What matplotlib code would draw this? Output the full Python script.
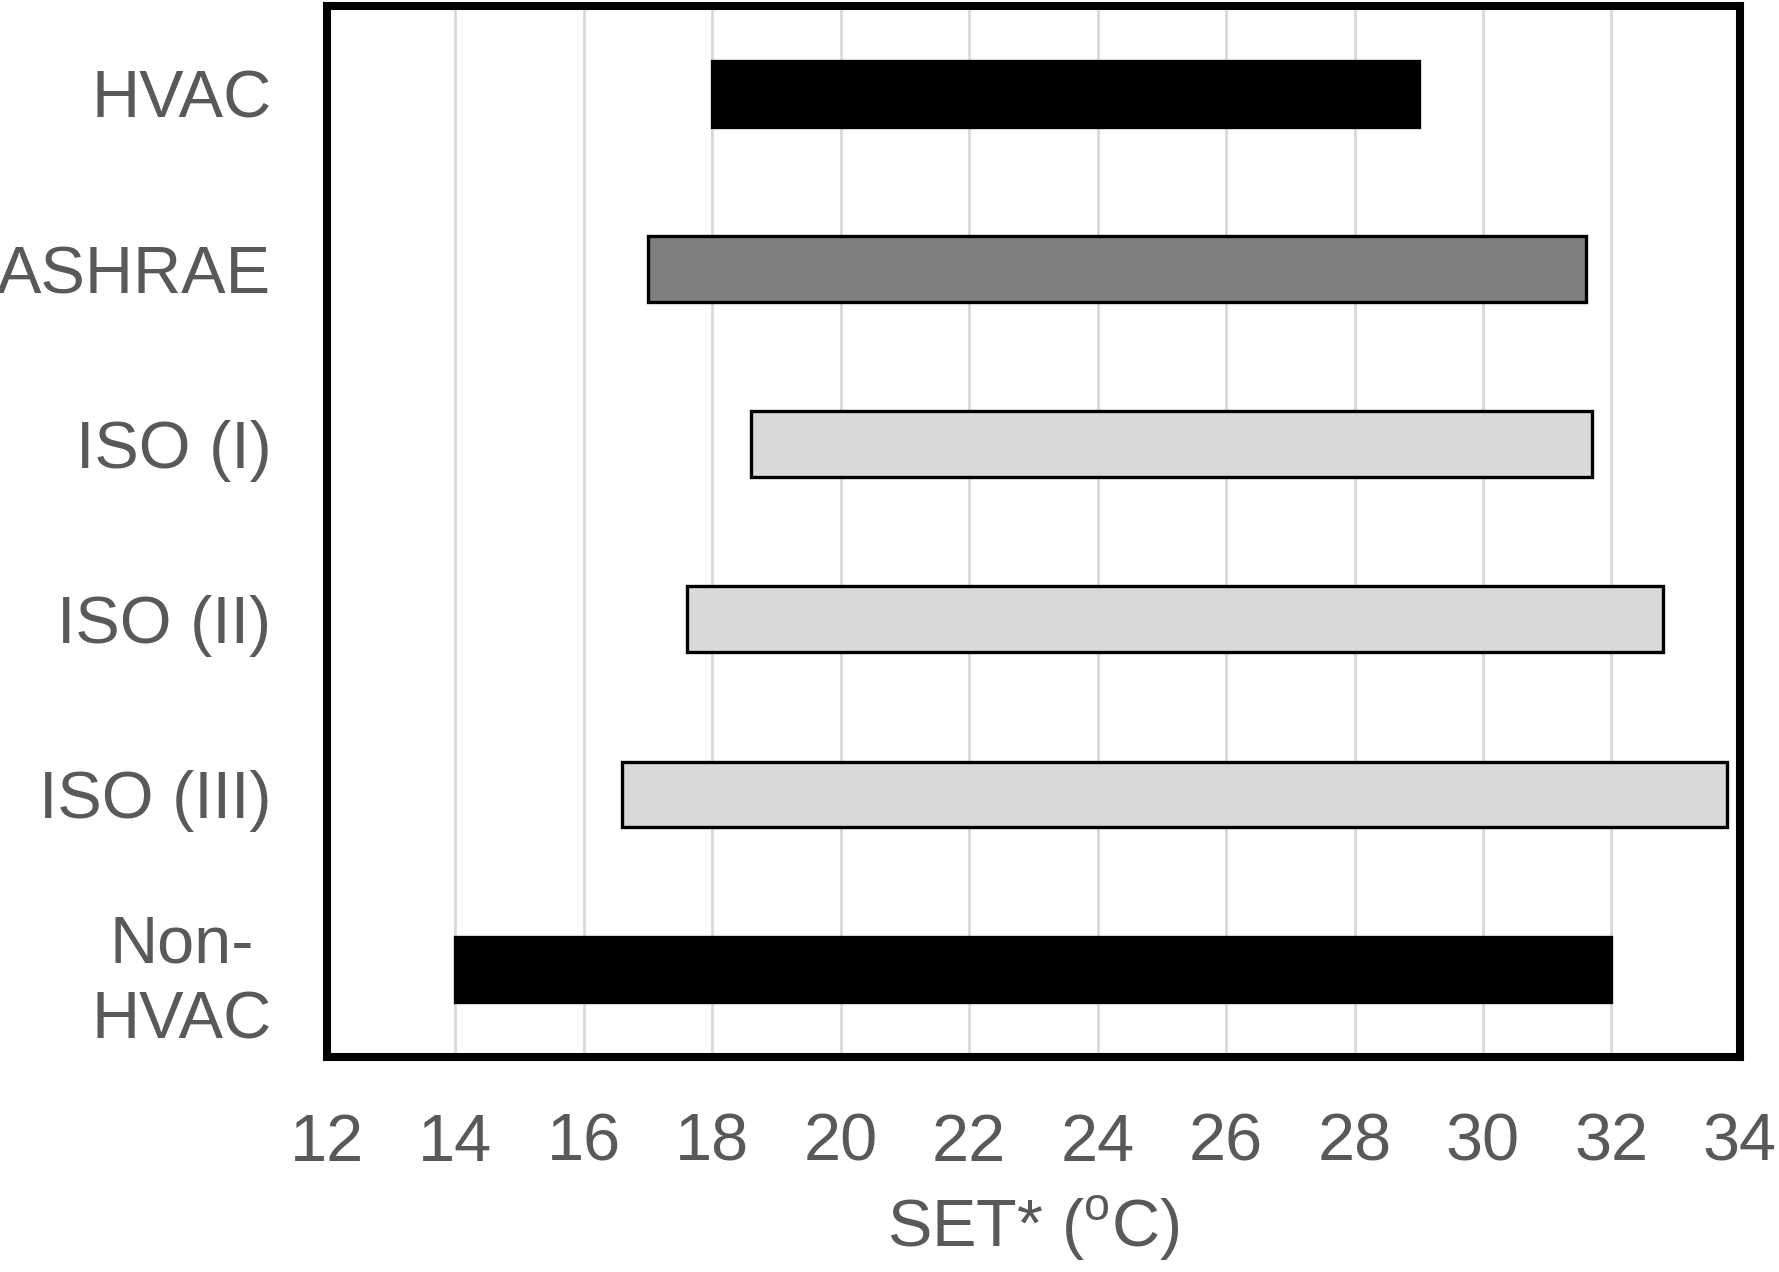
import matplotlib
matplotlib.use('Agg')
import matplotlib.pyplot as plt

plt.rcParams['font.family'] = ['Liberation Sans', 'DejaVu Sans']

# comfort ranges (SET*, deg C)
cats = ['HVAC', 'ASHRAE', 'ISO (I)', 'ISO (II)', 'ISO (III)', 'Non-\nHVAC']
lows = [18.0, 17.0, 18.6, 17.6, 16.6, 14.0]
highs = [29.0, 31.6, 31.7, 32.8, 33.8, 32.0]
fills = ['black', '#7f7f7f', '#d9d9d9', '#d9d9d9', '#d9d9d9', 'black']
xticks = [12, 14, 16, 18, 20, 22, 24, 26, 28, 30, 32, 34]

fig = plt.figure(figsize=(17.79, 12.72), dpi=100)
ax = fig.add_axes([0.1838, 0.169, 0.978 - 0.1838, 0.995 - 0.169])

ypos = list(range(len(cats)))
widths = [h - l for l, h in zip(lows, highs)]
ax.barh(ypos, widths, left=lows, height=0.375, color=fills,
        edgecolor='black', linewidth=2.4, zorder=3)

ax.set_xlim(12, 34)
ax.set_ylim(5.5, -0.5)
ax.set_xticks(xticks)
ax.set_yticks(ypos)
ax.set_yticklabels(cats, multialignment='center', linespacing=1.3)
ax.grid(axis='x', color='#d9d9d9', linewidth=2, zorder=0)
ax.set_axisbelow(True)

grey = '#595959'
ax.tick_params(axis='both', length=0, labelsize=48, labelcolor=grey)
ax.tick_params(axis='x', pad=40)
ax.tick_params(axis='y', pad=40)

for s in ax.spines.values():
    s.set_linewidth(5.8)
    s.set_color('black')

ax.set_xlabel('SET* ($^{\\mathregular{o}}$C)', fontsize=48, color=grey, labelpad=14)

fig.savefig('out.png', dpi=100)
